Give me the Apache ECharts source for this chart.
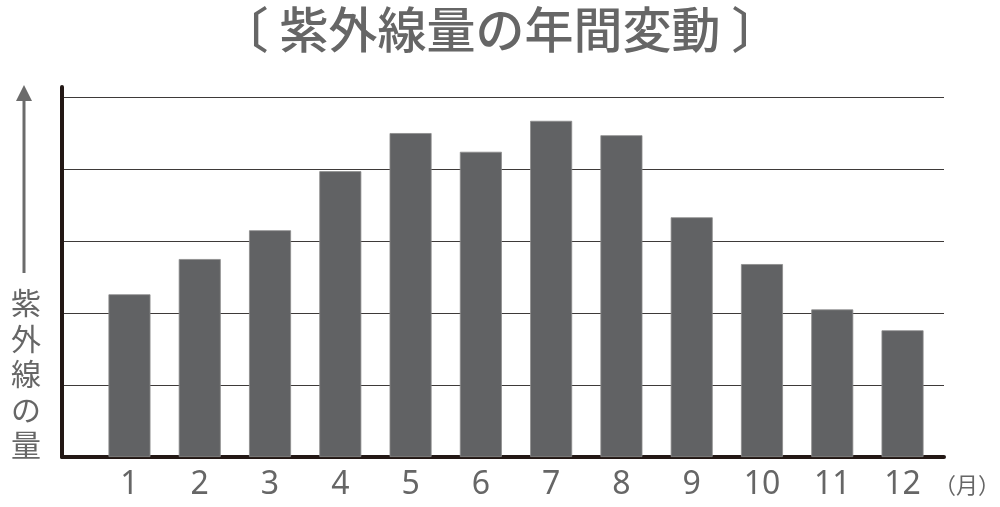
<!DOCTYPE html>
<html>
<head>
<meta charset="utf-8">
<script src="https://cdn.jsdelivr.net/npm/echarts@6/dist/echarts.min.js"></script>
<style>
  html, body { margin: 0; padding: 0; background: #fff; }
  #chart { width: 1000px; height: 507px; }
</style>
</head>
<body>
<div id="chart"></div>
<script>
// months and relative UV amounts (0..5 grid units)
var months = [1, 2, 3, 4, 5, 6, 7, 8, 9, 10, 11, 12];
var uvAmount = [2.26, 2.75, 3.15, 3.97, 4.5, 4.24, 4.67, 4.47, 3.33, 2.68, 2.05, 1.76];
var yTicks = [0, 1, 2, 3, 4, 5];

var titleText = "〔 紫外線量の年間変動 〕";
var yLabelText = "紫外線の量";
var unitText = "（月）";

var chart = echarts.init(document.getElementById("chart"));

var barData = months.map(function (m, i) {
  return [m, uvAmount[i]];
});

var cjk = '"Noto Sans CJK JP", "Noto Sans", sans-serif';

chart.setOption({
  animation: false,
  backgroundColor: "#ffffff",
  title: {
    text: titleText,
    left: "center",
    top: 0,
    textStyle: {
      fontFamily: cjk,
      fontSize: 49,
      fontWeight: 500,
      color: "#666666"
    }
  },
  grid: { left: 62, right: 56, top: 87, bottom: 50 },
  xAxis: {
    type: "value",
    min: 0.04,
    max: 12.59,
    axisLine: { show: true, onZero: false, lineStyle: { color: "#231815", width: 4 } },
    axisTick: { show: false },
    splitLine: { show: false },
    axisLabel: {
      customValues: months,
      margin: 12,
      fontFamily: '"Noto Sans", sans-serif',
      fontSize: 32,
      color: "#666666"
    }
  },
  yAxis: {
    type: "value",
    min: yTicks[0],
    max: 5.14,
    interval: 1,
    axisLine: { show: true, onZero: false, lineStyle: { color: "#231815", width: 4 } },
    axisTick: { show: false },
    axisLabel: { show: false },
    splitLine: {
      show: true,
      showMinLine: false,
      showMaxLine: false,
      lineStyle: { color: "#3e3a39", width: 1 }
    }
  },
  series: [{
    type: "bar",
    data: barData,
    barWidth: 42,
    itemStyle: { color: "#616264", borderColor: "#8c8c8c", borderWidth: 0.8 }
  }],
  graphic: [
    {
      type: "line",
      shape: { x1: 24, y1: 273, x2: 24, y2: 98 },
      style: { stroke: "#6b6b6b", lineWidth: 3 }
    },
    {
      type: "polygon",
      shape: { points: [[24, 85], [16, 101], [32, 101]] },
      style: { fill: "#6b6b6b" }
    },
    {
      type: "text",
      left: 11,
      top: 285,
      style: {
        text: yLabelText.split("").join("\n"),
        fontFamily: cjk,
        fontSize: 30,
        lineHeight: 35.5,
        fill: "#666666",
        align: "center"
      }
    },
    {
      type: "text",
      left: 934,
      top: 474,
      style: {
        text: unitText,
        fontFamily: cjk,
        fontSize: 22,
        fill: "#666666"
      }
    }
  ]
});
</script>
</body>
</html>
